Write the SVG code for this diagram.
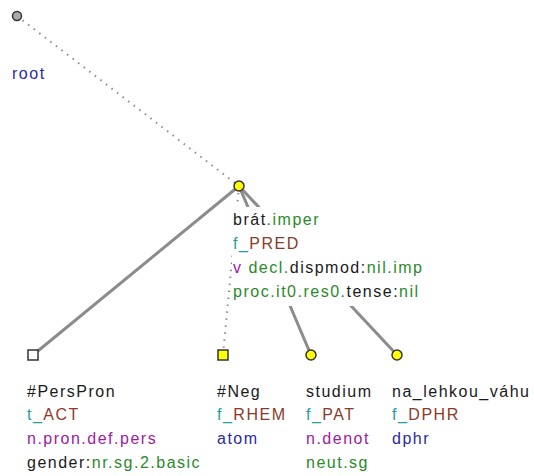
<svg xmlns="http://www.w3.org/2000/svg" width="534" height="476" viewBox="0 0 534 476">
<style>
text{font-family:"Liberation Sans",Arial,sans-serif;font-size:16px;letter-spacing:1.5px;fill:#1a1a1a}
.e{stroke:#8c8c8c;stroke-width:3;fill:none;stroke-linecap:round}
.d{stroke:#8c8c8c;stroke-width:2;fill:none;stroke-dasharray:1.5 5.5}
.y{fill:#ffff00;stroke:#333;stroke-width:1.5}
.g{fill:#2a8a2a}
.t{fill:#20a0a0}
.r{fill:#8b3a2a}
.p{fill:#a020a0}
.b{fill:#2a2aa0}
.k{fill:#1a1a1a}
</style>
<g id="connectors">
<line class="d" x1="17" y1="16" x2="239" y2="186"/>
<line class="e" x1="239" y1="186" x2="33" y2="355"/>
<line class="d" x1="239" y1="186" x2="223" y2="355"/>
<line class="e" x1="239" y1="186" x2="311" y2="355"/>
<line class="e" x1="239" y1="186" x2="397" y2="355"/>
</g>
<g id="root">
<circle cx="17" cy="16" r="4.5" fill="#aaa" stroke="#333" stroke-width="1.5"/>
<text x="12" y="79" class="b">root</text>
</g>
<g id="brat">
<rect x="232" y="207" width="190" height="99" fill="#fff"/>
<circle cx="239" cy="186" r="5" class="y"/>
<text x="233" y="225">brát<tspan class="g">.imper</tspan></text>
<text x="233" y="249"><tspan class="t">f_</tspan><tspan class="r">PRED</tspan></text>
<text x="233" y="273"><tspan class="p">v</tspan> <tspan class="g">decl.</tspan><tspan class="k">dispmod:</tspan><tspan class="g">nil.imp</tspan></text>
<text x="233" y="297"><tspan class="g">proc.it0.res0.</tspan><tspan class="k">tense:</tspan><tspan class="g">nil</tspan></text>
</g>
<g id="perspron">
<rect x="28" y="350" width="10" height="10" fill="#fff" stroke="#333" stroke-width="1.5"/>
<text x="27" y="397">#PersPron</text>
<text x="27" y="420"><tspan class="t">t_</tspan><tspan class="r">ACT</tspan></text>
<text x="27" y="444" class="p">n.pron.def.pers</text>
<text x="27" y="468">gender:<tspan class="g">nr.sg.2.basic</tspan></text>
</g>
<g id="neg">
<rect x="218" y="350" width="10" height="10" class="y"/>
<text x="217" y="397">#Neg</text>
<text x="217" y="420"><tspan class="t">f_</tspan><tspan class="r">RHEM</tspan></text>
<text x="217" y="444" class="b">atom</text>
</g>
<g id="studium">
<circle cx="311" cy="355" r="5" class="y"/>
<text x="306" y="397">studium</text>
<text x="306" y="420"><tspan class="t">f_</tspan><tspan class="r">PAT</tspan></text>
<text x="306" y="444" class="p">n.denot</text>
<text x="306" y="468" class="g">neut.sg</text>
</g>
<g id="na_lehkou_vahu">
<circle cx="397" cy="355" r="5" class="y"/>
<text x="392" y="397">na_lehkou_váhu</text>
<text x="392" y="420"><tspan class="t">f_</tspan><tspan class="r">DPHR</tspan></text>
<text x="392" y="444" class="b">dphr</text>
</g>
</svg>
